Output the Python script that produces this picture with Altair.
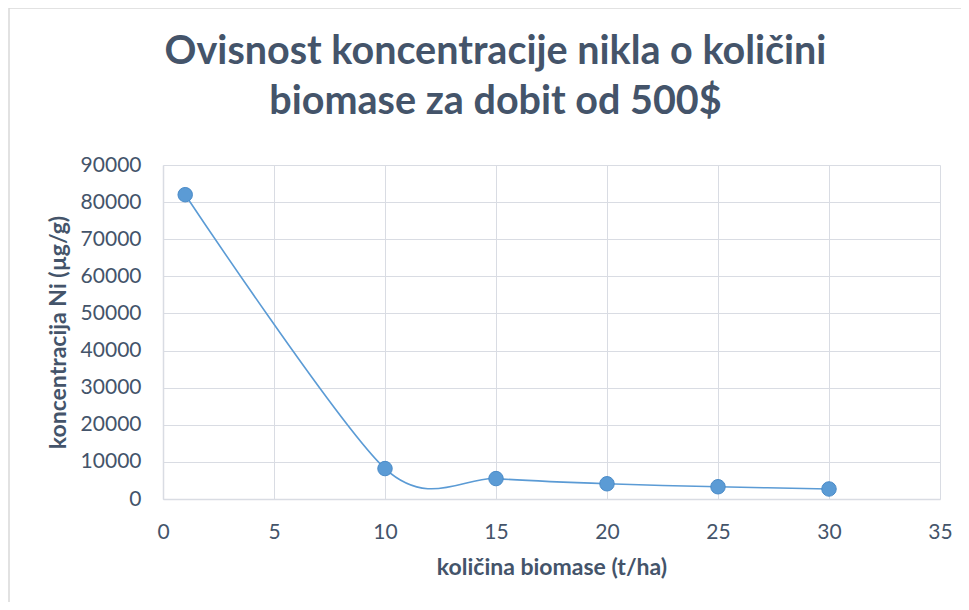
import altair as alt
import pandas as pd

biomass = [1, 10, 15, 20, 25, 30]
concentration = [82000, 8200, 5500, 4100, 3300, 2700]
x_ticks = [0, 5, 10, 15, 20, 25, 30, 35]
y_ticks = [0, 10000, 20000, 30000, 40000, 50000, 60000, 70000, 80000, 90000]

title_lines = ["Ovisnost koncentracije nikla o količini", "biomase za dobit od 500$"]
x_title = "količina biomase (t/ha)"
y_title = "koncentracija Ni (µg/g)"

df = pd.DataFrame({"x": biomass, "y": concentration})

W, H = 777, 334
FONT = "Lato"
TXT = "#44546A"
BLUE = "#5B9BD5"
GRID = "#D9DCE3"

x_enc = alt.X("x:Q", scale=alt.Scale(domain=[0, 35], nice=False),
              axis=alt.Axis(values=x_ticks, title=x_title, grid=True, ticks=False, format="d",
                            labelOverlap=False, labelFlush=False, labelPadding=22, titleY=75,
                            titleBaseline="alphabetic"))
y_enc = alt.Y("y:Q", scale=alt.Scale(domain=[0, 90000], nice=False),
              axis=alt.Axis(values=y_ticks, title=y_title, grid=True, ticks=False, format="d",
                            labelOverlap=False, labelFlush=False, labelPadding=22,
                            titleX=-105, titleY=H / 2,
                            titleAngle=-90, titleAlign="center", titleBaseline="middle"))

base = alt.Chart(df).encode(x=x_enc, y=y_enc)
line = base.mark_line(color=BLUE, strokeWidth=1.6, interpolate="cardinal", tension=0.15)
pts = base.mark_circle(color=BLUE, size=210, opacity=1, stroke="#4A8BC8", strokeWidth=1)

frame = alt.Chart(pd.DataFrame({"k": [0]})).mark_rect(
    fill=None, stroke="#D9D9D9", strokeWidth=1.5, clip=False
).encode(x=alt.value(-154), x2=alt.value(W + 60), y=alt.value(-157), y2=alt.value(H + 150))

chart = alt.layer(frame, line, pts).properties(
    width=W, height=H,
    title=alt.TitleParams(text=title_lines, anchor="middle", dx=-56, offset=0, dy=146,
                          baseline="alphabetic",
                          fontSize=39.5, fontWeight="bold", font=FONT, color=TXT,
                          lineHeight=50),
    autosize=alt.AutoSizeParams(type="none"),
    padding={"left": 155, "top": 157, "right": 21, "bottom": 103},
    background="white",
).configure_axis(
    gridColor=GRID, gridWidth=1, domainColor=GRID, domainWidth=1.5,
    labelFont=FONT, labelFontSize=21, labelColor=TXT,
    titleFont=FONT, titleFontSize=23, titleFontWeight="bold", titleColor=TXT,
).configure_view(stroke=None)

chart.save("out.html", embed_options={"renderer": "svg", "actions": False})
